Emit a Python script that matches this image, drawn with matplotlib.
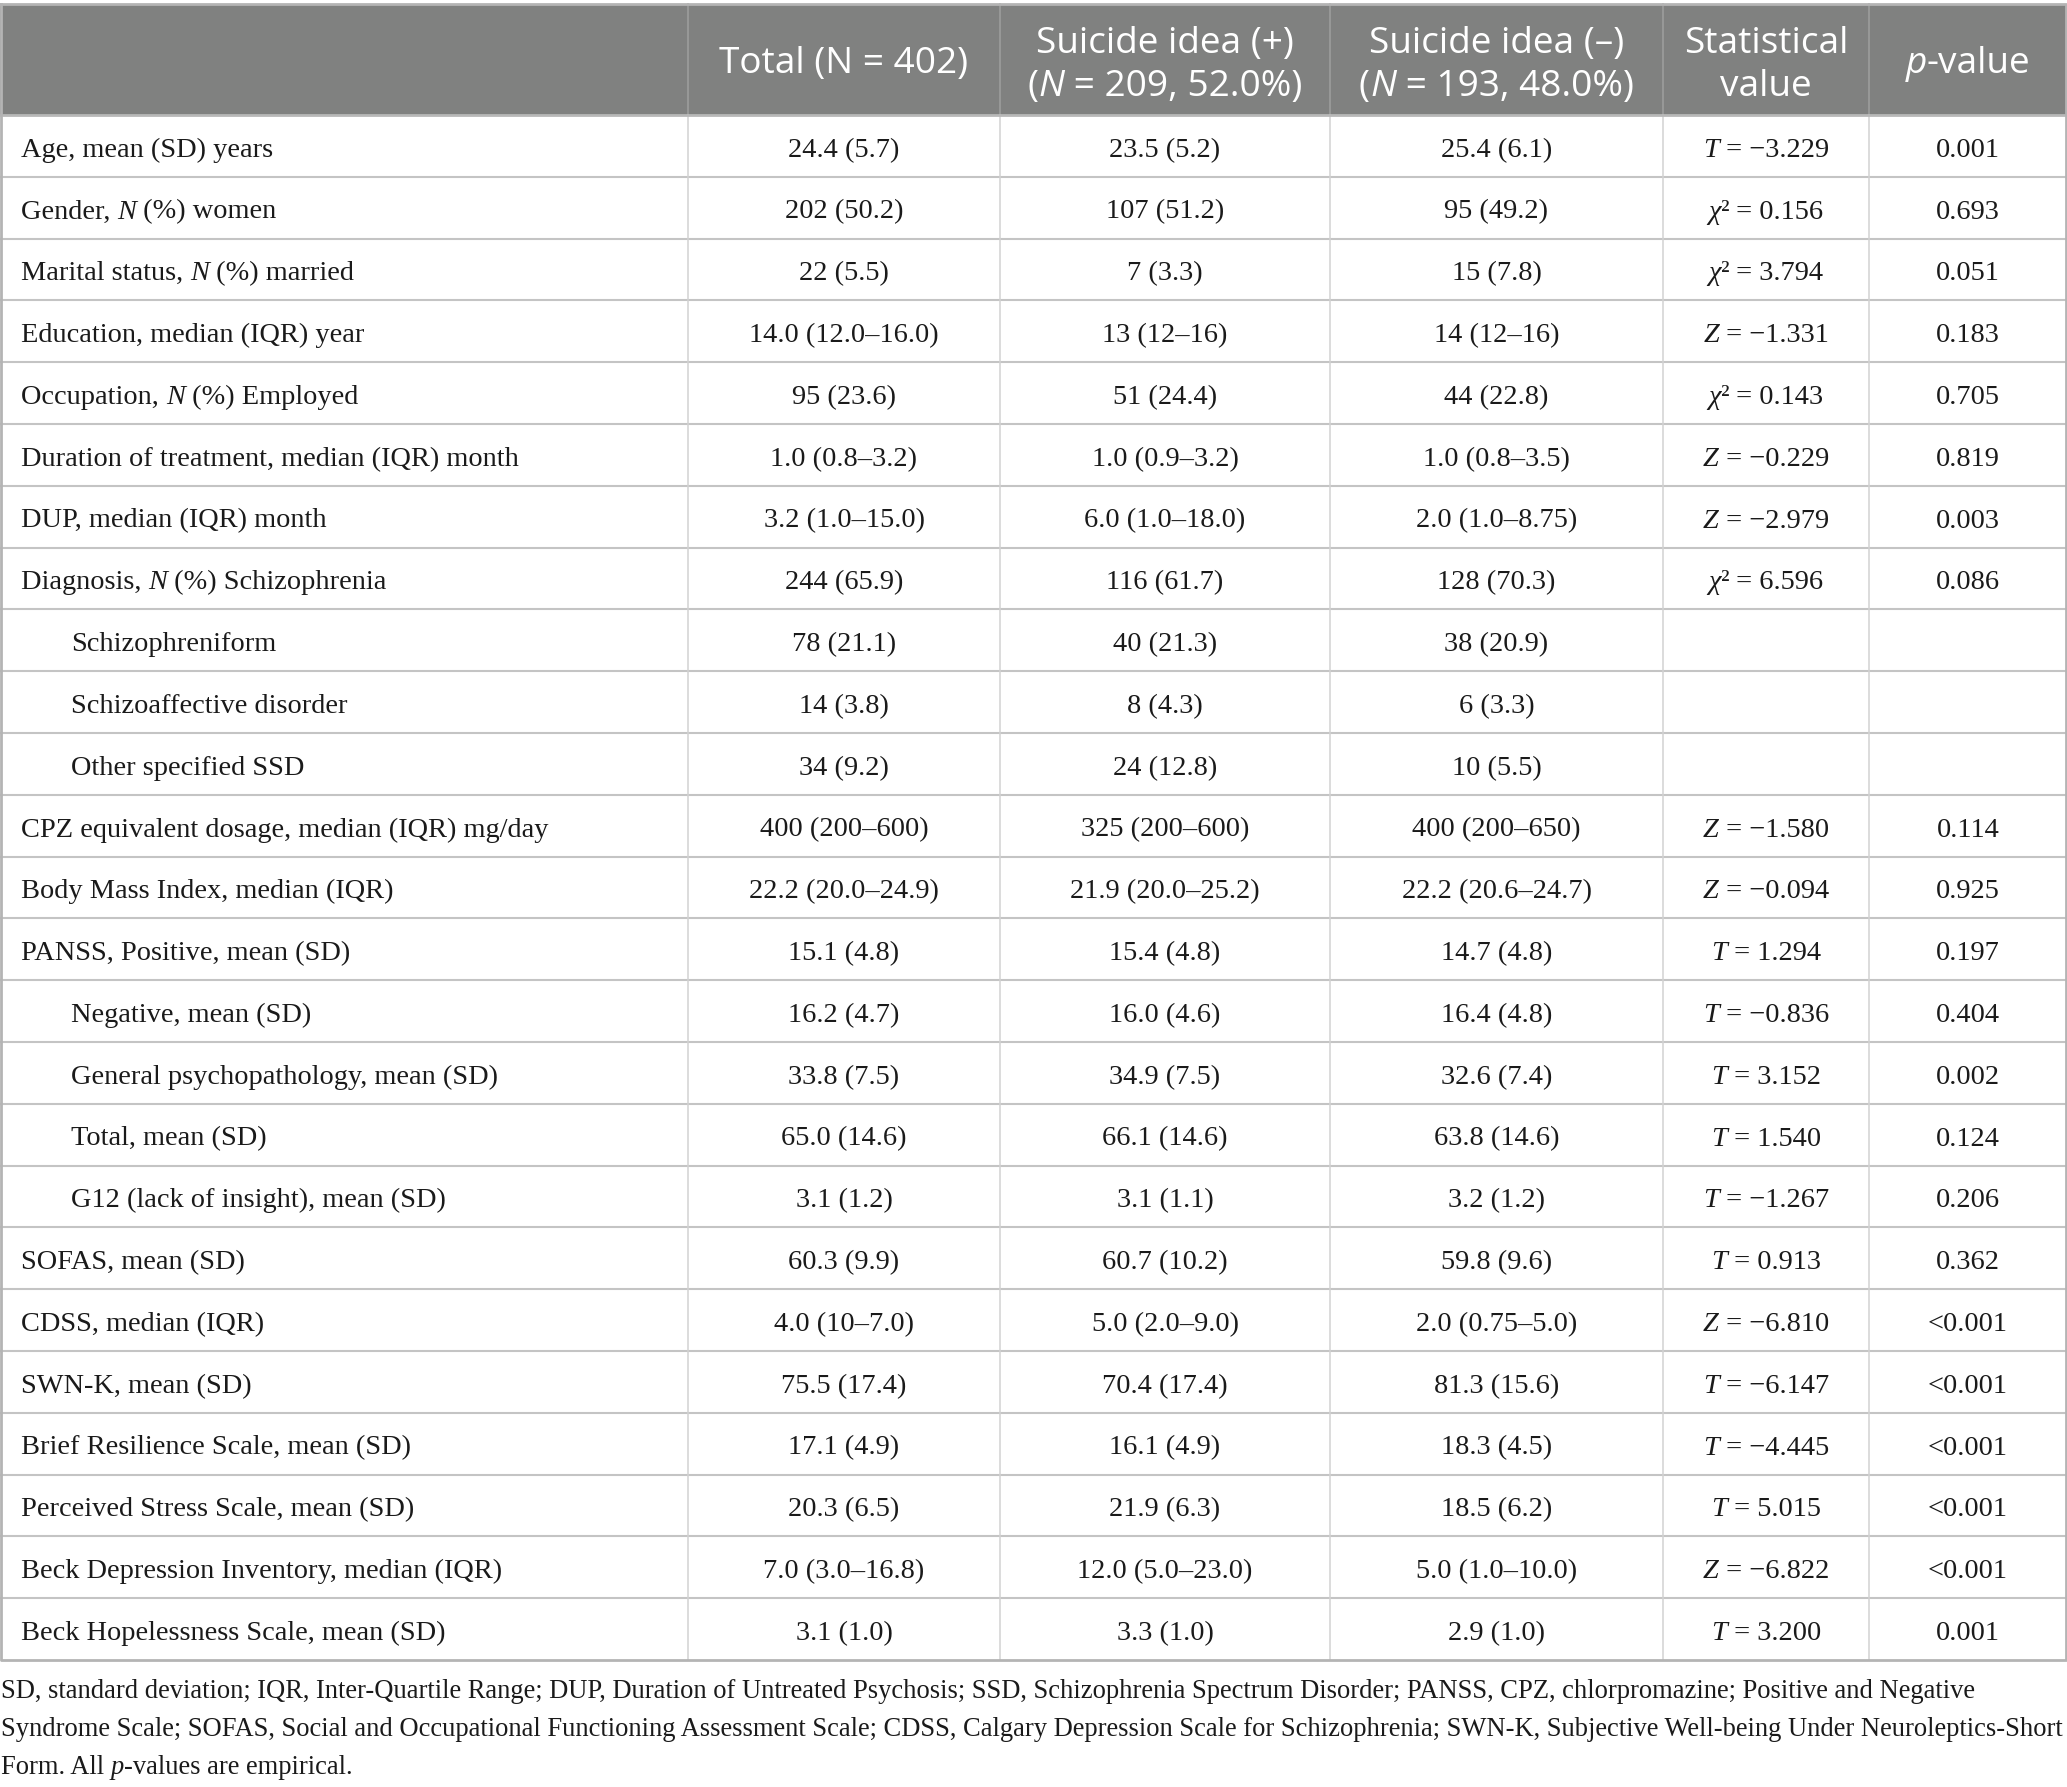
import matplotlib
matplotlib.use('Agg')
import matplotlib.pyplot as plt
from matplotlib.font_manager import FontProperties

# ---------------- data ----------------
header_total = "Total (N = 402)"
labels = [
    "Age, mean (SD) years",
    "Gender, |N| (%) women",
    "Marital status, |N| (%) married",
    "Education, median (IQR) year",
    "Occupation, |N| (%) Employed",
    "Duration of treatment, median (IQR) month",
    "DUP, median (IQR) month",
    "Diagnosis, |N| (%) Schizophrenia",
    "Schizophreniform",
    "Schizoaffective disorder",
    "Other specified SSD",
    "CPZ equivalent dosage, median (IQR) mg/day",
    "Body Mass Index, median (IQR)",
    "PANSS, Positive, mean (SD)",
    "Negative, mean (SD)",
    "General psychopathology, mean (SD)",
    "Total, mean (SD)",
    "G12 (lack of insight), mean (SD)",
    "SOFAS, mean (SD)",
    "CDSS, median (IQR)",
    "SWN-K, mean (SD)",
    "Brief Resilience Scale, mean (SD)",
    "Perceived Stress Scale, mean (SD)",
    "Beck Depression Inventory, median (IQR)",
    "Beck Hopelessness Scale, mean (SD)",
]
indented = [False, False, False, False, False, False, False, False,
            True, True, True, False, False, False, True, True, True, True,
            False, False, False, False, False, False, False]
total_vals = ["24.4 (5.7)", "202 (50.2)", "22 (5.5)", "14.0 (12.0–16.0)", "95 (23.6)",
              "1.0 (0.8–3.2)", "3.2 (1.0–15.0)", "244 (65.9)", "78 (21.1)", "14 (3.8)",
              "34 (9.2)", "400 (200–600)", "22.2 (20.0–24.9)", "15.1 (4.8)", "16.2 (4.7)",
              "33.8 (7.5)", "65.0 (14.6)", "3.1 (1.2)", "60.3 (9.9)", "4.0 (10–7.0)",
              "75.5 (17.4)", "17.1 (4.9)", "20.3 (6.5)", "7.0 (3.0–16.8)", "3.1 (1.0)"]
pos_vals = ["23.5 (5.2)", "107 (51.2)", "7 (3.3)", "13 (12–16)", "51 (24.4)",
            "1.0 (0.9–3.2)", "6.0 (1.0–18.0)", "116 (61.7)", "40 (21.3)", "8 (4.3)",
            "24 (12.8)", "325 (200–600)", "21.9 (20.0–25.2)", "15.4 (4.8)", "16.0 (4.6)",
            "34.9 (7.5)", "66.1 (14.6)", "3.1 (1.1)", "60.7 (10.2)", "5.0 (2.0–9.0)",
            "70.4 (17.4)", "16.1 (4.9)", "21.9 (6.3)", "12.0 (5.0–23.0)", "3.3 (1.0)"]
neg_vals = ["25.4 (6.1)", "95 (49.2)", "15 (7.8)", "14 (12–16)", "44 (22.8)",
            "1.0 (0.8–3.5)", "2.0 (1.0–8.75)", "128 (70.3)", "38 (20.9)", "6 (3.3)",
            "10 (5.5)", "400 (200–650)", "22.2 (20.6–24.7)", "14.7 (4.8)", "16.4 (4.8)",
            "32.6 (7.4)", "63.8 (14.6)", "3.2 (1.2)", "59.8 (9.6)", "2.0 (0.75–5.0)",
            "81.3 (15.6)", "18.3 (4.5)", "18.5 (6.2)", "5.0 (1.0–10.0)", "2.9 (1.0)"]
stat_symbol = ["T", "χ", "χ", "Z", "χ", "Z", "Z", "χ", "", "", "", "Z", "Z",
               "T", "T", "T", "T", "T", "T", "Z", "T", "T", "T", "Z", "T"]
stat_value = ["−3.229", "0.156", "3.794", "−1.331", "0.143", "−0.229", "−2.979", "6.596",
              "", "", "", "−1.580", "−0.094", "1.294", "−0.836", "3.152", "1.540", "−1.267",
              "0.913", "−6.810", "−6.147", "−4.445", "5.015", "−6.822", "3.200"]
p_values = ["0.001", "0.693", "0.051", "0.183", "0.705", "0.819", "0.003", "0.086",
            "", "", "", "0.114", "0.925", "0.197", "0.404", "0.002", "0.124", "0.206",
            "0.362", "<0.001", "<0.001", "<0.001", "<0.001", "<0.001", "0.001"]
footnote = [
    "SD, standard deviation; IQR, Inter-Quartile Range; DUP, Duration of Untreated Psychosis; SSD, Schizophrenia Spectrum Disorder; PANSS, CPZ, chlorpromazine; Positive and Negative",
    "Syndrome Scale; SOFAS, Social and Occupational Functioning Assessment Scale; CDSS, Calgary Depression Scale for Schizophrenia; SWN-K, Subjective Well-being Under Neuroleptics-Short",
    "Form. All |p|-values are empirical.",
]

# ---------------- layout ----------------
W, H, DPI = 2067, 1787, 100
col_edges = [0, 688, 1000, 1330, 1663, 1869, 2067]
table_top, header_bottom = 4, 115
n_rows = len(labels)
row_h = (1660 - header_bottom) / n_rows

fig = plt.figure(figsize=(W / DPI, H / DPI), dpi=DPI)
ax = fig.add_axes([0, 0, 1, 1])
ax.set_xlim(0, W)
ax.set_ylim(H, 0)
ax.axis('off')
renderer = fig.canvas.get_renderer()

body_px = 28.4
head_px = 37.0
foot_px = 26.5
serif = FontProperties(family=['Liberation Serif', 'DejaVu Serif'], size=body_px * 0.72)
serif_it = FontProperties(family=['Liberation Serif', 'DejaVu Serif'], style='italic', size=body_px * 0.72)
foot = FontProperties(family=['Liberation Serif', 'DejaVu Serif'], size=foot_px * 0.72)
foot_it = FontProperties(family=['Liberation Serif', 'DejaVu Serif'], style='italic', size=foot_px * 0.72)
sans = FontProperties(family=['Open Sans', 'DejaVu Sans'], size=head_px * 0.72)
sans_it = FontProperties(family=['Open Sans', 'DejaVu Sans'], style='italic', size=head_px * 0.72)

_bar_cache = {}

def text_width(s, fp):
    key = id(fp)
    if key not in _bar_cache:
        t = ax.text(0, 0, '||', fontproperties=fp)
        _bar_cache[key] = t.get_window_extent(renderer).width
        t.remove()
    t = ax.text(0, 0, '|' + s + '|', fontproperties=fp)
    w = t.get_window_extent(renderer).width
    t.remove()
    return w - _bar_cache[key]


def draw_segments(x, y, segs, ha='center', color='#1a1a1a'):
    widths = [text_width(s, fp) for s, fp in segs]
    total = sum(widths)
    cur = x - total / 2 if ha == 'center' else x
    for (s, fp), w in zip(segs, widths):
        ax.text(cur, y, s, fontproperties=fp, color=color, ha='left', va='baseline')
        cur += w


def marked(s, reg, it):
    # '|x|' marks italic pieces
    parts = s.split('|')
    return [(p, it if i % 2 else reg) for i, p in enumerate(parts) if p]

# ---------------- header ----------------
ax.add_patch(plt.Rectangle((0, table_top), W, header_bottom - table_top,
                           facecolor='#808180', edgecolor='none', zorder=0))
cx = [(col_edges[i] + col_edges[i + 1]) / 2 for i in range(len(col_edges) - 1)]
white = 'white'
draw_segments(cx[1], 73, [(header_total, sans)], color=white)
draw_segments(cx[2], 53, [("Suicide idea (+)", sans)], color=white)
draw_segments(cx[2], 96, marked("(|N| = 209, 52.0%)", sans, sans_it), color=white)
draw_segments(cx[3], 53, [("Suicide idea (–)", sans)], color=white)
draw_segments(cx[3], 96, marked("(|N| = 193, 48.0%)", sans, sans_it), color=white)
draw_segments(cx[4], 53, [("Statistical", sans)], color=white)
draw_segments(cx[4], 96, [("value", sans)], color=white)
draw_segments(cx[5], 73, marked("|p|-value", sans, sans_it), color=white)

for xe in col_edges[1:-1]:
    ax.plot([xe, xe], [table_top, header_bottom], color='#9c9d9c', lw=1.2, zorder=1)

# ---------------- body ----------------
for i in range(n_rows):
    top = header_bottom + i * row_h
    base = top + 0.675 * row_h
    xl = 71 if indented[i] else 21
    draw_segments(xl, base, marked(labels[i], serif, serif_it), ha='left')
    draw_segments(cx[1], base, [(total_vals[i], serif)])
    draw_segments(cx[2], base, [(pos_vals[i], serif)])
    draw_segments(cx[3], base, [(neg_vals[i], serif)])
    if stat_symbol[i]:
        if stat_symbol[i] == "χ":
            segs = [("χ", serif_it), ("²", serif), (" = " + stat_value[i], serif)]
        else:
            segs = [(stat_symbol[i], serif_it), (" = " + stat_value[i], serif)]
        draw_segments(cx[4], base, segs)
    if p_values[i]:
        draw_segments(cx[5], base, [(p_values[i], serif)])

# grid lines
for i in range(1, n_rows):
    y = header_bottom + i * row_h
    ax.plot([0, W], [y, y], color='#c4c4c4', lw=1.5, zorder=1)
for xe in col_edges[1:-1]:
    ax.plot([xe, xe], [header_bottom, header_bottom + n_rows * row_h], color='#d2d2d2', lw=1.1, zorder=1)
bottom = header_bottom + n_rows * row_h
ax.plot([0, W], [header_bottom, header_bottom], color='#b8b8b8', lw=2.0, zorder=2)
ax.plot([1, W - 1, W - 1, 1, 1], [table_top, table_top, bottom, bottom, table_top],
        color='#b4b4b4', lw=2.0, zorder=2)

# ---------------- footnote ----------------
foot_base = [1698, 1736, 1774]
for line, yb in zip(footnote, foot_base):
    draw_segments(1, yb, marked(line, foot, foot_it), ha='left')

fig.savefig('out.png', dpi=DPI, facecolor='white')
